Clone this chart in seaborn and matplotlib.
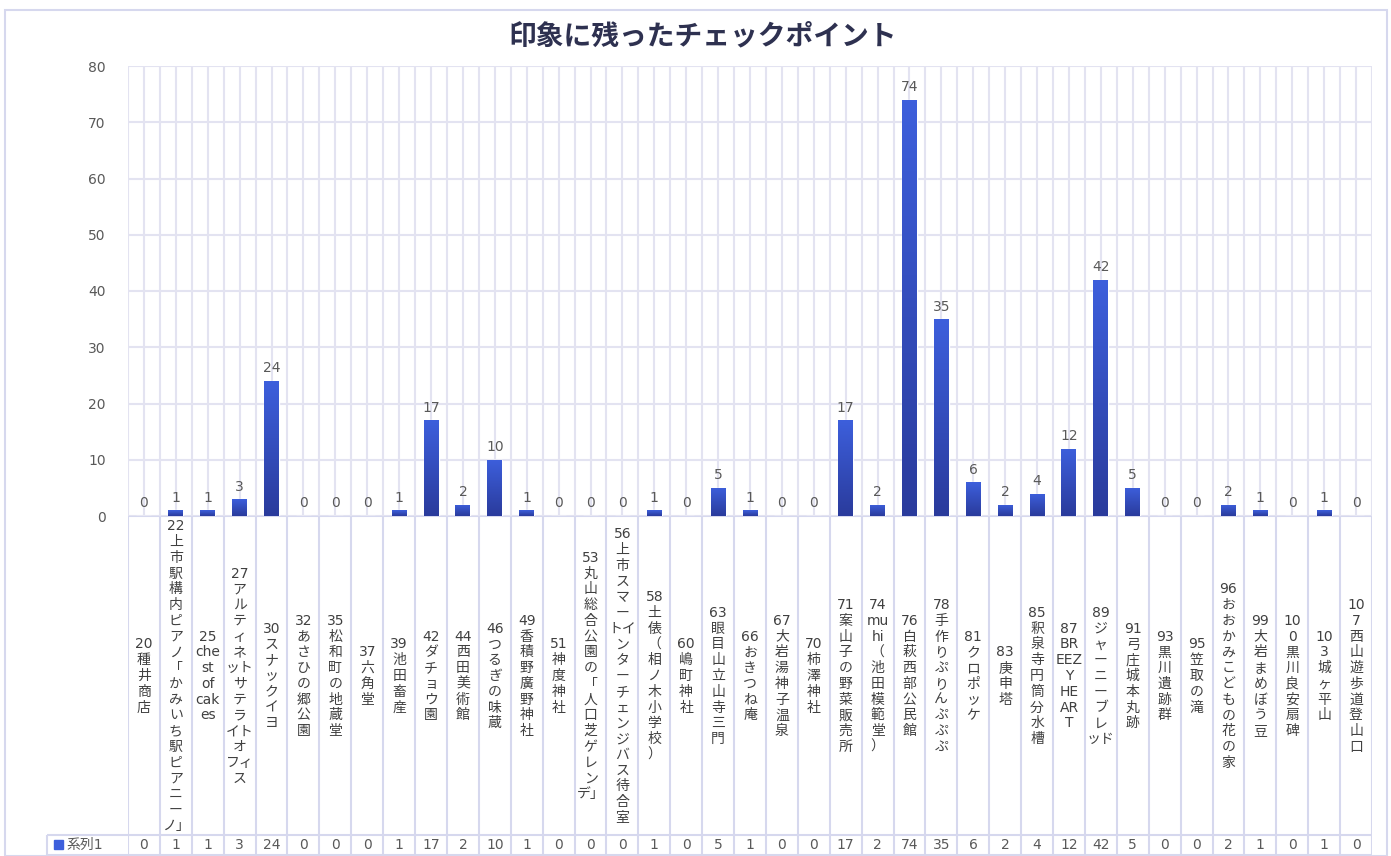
# -*- coding: utf-8 -*-
# 印象に残ったチェックポイント - bar chart with data table
import numpy as np
import pandas as pd
import seaborn as sns
import matplotlib.pyplot as plt
from matplotlib.patches import Rectangle
from matplotlib.colors import LinearSegmentedColormap

# === Data ===
title = "印象に残ったチェックポイント"
series_name = "系列1"

# category labels, wrapped the way they are shown in the cells
labels = [
    "20\n種\n井\n商\n店",
    "22\n上\n市\n駅\n構\n内\nピ\nア\nノ\n「\nか\nみ\nい\nち\n駅\nピ\nア\nニ\nー\nノ」",
    "25\nche\nst\nof\ncak\nes",
    "27\nア\nル\nテ\nィ\nネ\nット\nサ\nテ\nラ\nイト\nオ\nフィ\nス",
    "30\nス\nナ\nッ\nク\nイ\nヨ",
    "32\nあ\nさ\nひ\nの\n郷\n公\n園",
    "35\n松\n和\n町\nの\n地\n蔵\n堂",
    "37\n六\n角\n堂",
    "39\n池\n田\n畜\n産",
    "42\nダ\nチ\nョ\nウ\n園",
    "44\n西\n田\n美\n術\n館",
    "46\nつ\nる\nぎ\nの\n味\n蔵",
    "49\n香\n積\n野\n廣\n野\n神\n社",
    "51\n神\n度\n神\n社",
    "53\n丸\n山\n総\n合\n公\n園\nの\n「\n人\n口\n芝\nゲ\nレ\nン\nデ」",
    "56\n上\n市\nス\nマ\nー\nトイ\nン\nタ\nー\nチ\nェ\nン\nジ\nバ\nス\n待\n合\n室",
    "58\n土\n俵\n（\n相\nノ\n木\n小\n学\n校\n）",
    "60\n嶋\n町\n神\n社",
    "63\n眼\n目\n山\n立\n山\n寺\n三\n門",
    "66\nお\nき\nつ\nね\n庵",
    "67\n大\n岩\n湯\n神\n子\n温\n泉",
    "70\n柿\n澤\n神\n社",
    "71\n案\n山\n子\nの\n野\n菜\n販\n売\n所",
    "74\nmu\nhi\n（\n池\n田\n模\n範\n堂\n）",
    "76\n白\n萩\n西\n部\n公\n民\n館",
    "78\n手\n作\nり\nぷ\nり\nん\nぷ\nぷ\nぷ",
    "81\nク\nロ\nポ\nッ\nケ",
    "83\n庚\n申\n塔",
    "85\n釈\n泉\n寺\n円\n筒\n分\n水\n槽",
    "87\nBR\nEEZ\nY\nHE\nAR\nT",
    "89\nジ\nャ\nー\nニ\nー\nブ\nレ\nッド",
    "91\n弓\n庄\n城\n本\n丸\n跡",
    "93\n黒\n川\n遺\n跡\n群",
    "95\n笠\n取\nの\n滝",
    "96\nお\nお\nか\nみ\nこ\nど\nも\nの\n花\nの\n家",
    "99\n大\n岩\nま\nめ\nぼ\nう\n豆",
    "10\n0\n黒\n川\n良\n安\n扇\n碑",
    "10\n3\n城\nヶ\n平\n山",
    "10\n7\n西\n山\n遊\n歩\n道\n登\n山\n口",
]
values = [0, 1, 1, 3, 24, 0, 0, 0, 1, 17, 2, 10, 1, 0, 0, 0, 1, 0,
          5, 1, 0, 0, 17, 2, 74, 35, 6, 2, 4, 12, 42, 5, 0, 0, 2, 1, 0, 1, 0]
yticks = [0, 10, 20, 30, 40, 50, 60, 70, 80]

df = pd.DataFrame({"label": labels, "value": values})
n = len(df)

# === Style ===
sns.set_theme(style="white")
plt.rcParams["font.family"] = ["DejaVu Sans", "Noto Sans CJK JP"]

grid_col = "#e3e3f1"
table_col = "#d6d8ee"
text_col = "#595959"
bar_top, bar_bot = "#3d5fdc", "#2a3b9c"

W, H = 1391, 856
fig = plt.figure(figsize=(W / 100, H / 100), dpi=100)


def box(l, t, r, b):
    return [l / W, 1 - b / H, (r - l) / W, (b - t) / H]


# === Main bar axes ===
ax = fig.add_axes(box(128, 66, 1372, 516))
sns.barplot(data=df, x="label", y="value", order=labels, color=bar_top,
            width=0.47, ax=ax, zorder=3, saturation=1)

ax.set_xlim(-0.5, n - 0.5)
ax.set_ylim(0, 80)
ax.set_yticks(yticks)
ax.set_xticks([])
ax.set_xlabel("")
ax.set_ylabel("")
ax.tick_params(axis="y", length=0, pad=16, labelsize=10, labelcolor=text_col)
for s in ax.spines.values():
    s.set_visible(False)
ax.hlines(yticks, -0.5, n - 0.5, color=grid_col, lw=1.5, zorder=0)
ax.vlines(np.arange(-0.5, n, 0.5), 0, 80, color=grid_col, lw=1.5, zorder=0)

# gradient fill on each bar
cmap = LinearSegmentedColormap.from_list("bar", [bar_bot, bar_top])
grad = np.linspace(1, 0, 128).reshape(-1, 1)
for p in ax.patches:
    x0, y0 = p.get_x(), p.get_y()
    w, h = p.get_width(), p.get_height()
    if h <= 0:
        continue
    im = ax.imshow(grad, extent=[x0, x0 + w, y0, y0 + h], aspect="auto",
                   cmap=cmap, zorder=4, origin="upper")
    im.set_clip_path(p)
ax.set_xlim(-0.5, n - 0.5)
ax.set_ylim(0, 80)

# value labels
ax.bar_label(ax.containers[0], labels=[str(v) for v in values], padding=4,
             fontsize=10, color=text_col, family="DejaVu Sans")

# === Data table under the chart ===
tax = fig.add_axes(box(128, 516, 1372, 855))
tax.set_xlim(-0.5, n - 0.5)
tax.set_ylim(339, 0)
tax.axis("off")
left_x = -0.5 - (128 - 47) / (1244 / n)
tax.vlines(np.arange(-0.5, n, 1.0), 0, 339, color=table_col, lw=1.5)
tax.vlines([left_x], 319, 339, color=table_col, lw=1.5, clip_on=False)
tax.hlines([0], -0.5, n - 0.5, color=table_col, lw=1.5)
tax.hlines([319, 339], left_x, n - 0.5, color=table_col, lw=1.5, clip_on=False)

for i, (lab, v) in enumerate(zip(labels, values)):
    tax.text(i, 160, lab, ha="center", va="center", multialignment="center",
             fontsize=10, color="#404040", linespacing=1.16)
    tax.text(i, 329, str(v), ha="center", va="center", fontsize=10,
             color=text_col)

# legend key in the table
fig.add_artist(Rectangle((54 / W, 1 - 849 / H), 9 / W, 9 / H,
                         transform=fig.transFigure, color=bar_top))
fig.text(66 / W, 1 - 845 / H, series_name, ha="left", va="center",
         fontsize=10, color=text_col)

# === Title and chart border ===
fig.text(703 / W, 1 - 36 / H, title, ha="center", va="center", fontsize=20,
         weight="bold", color="#2e3150", family=["Noto Sans CJK JP"])
fig.add_artist(Rectangle((5 / W, 0), 1382 / W, 1 - 10 / H,
                         transform=fig.transFigure, fill=False,
                         edgecolor=table_col, lw=1.5))

fig.savefig("out.png", dpi=100)
